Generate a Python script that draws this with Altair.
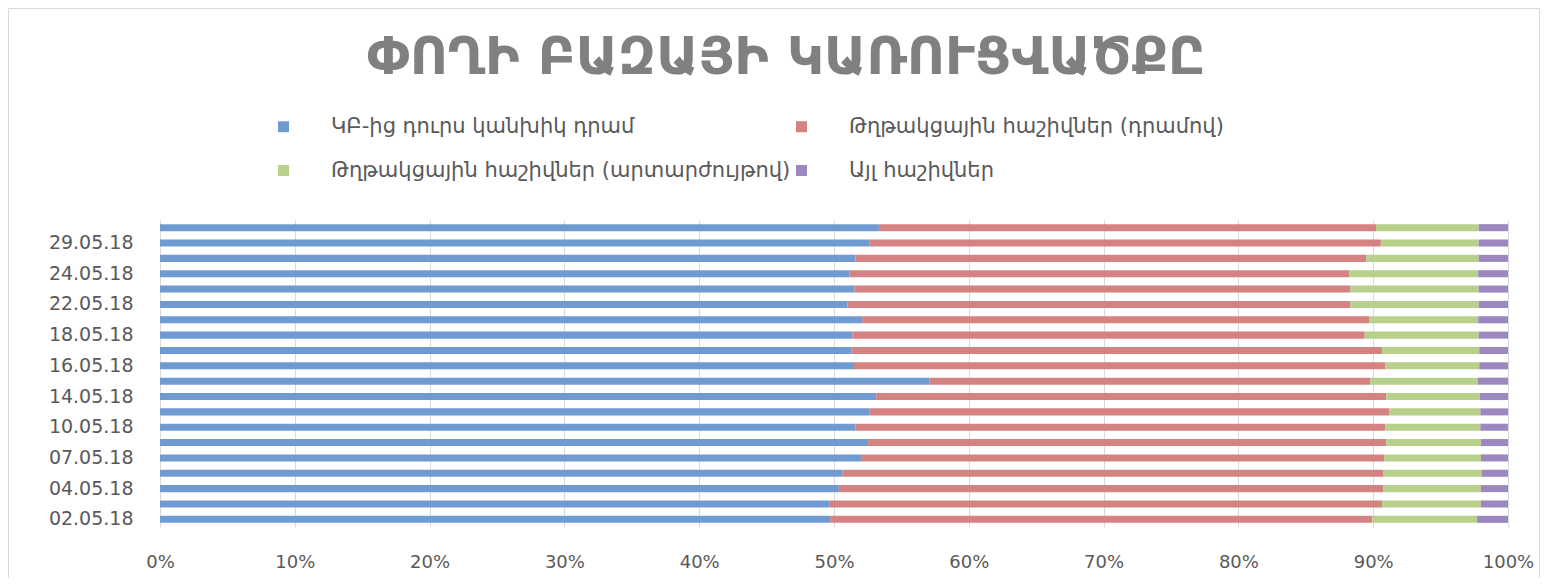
import altair as alt
import pandas as pd

dates = ["02.05.18", "03.05.18", "04.05.18", "05.05.18", "07.05.18", "08.05.18",
         "10.05.18", "11.05.18", "14.05.18", "15.05.18", "16.05.18", "17.05.18",
         "18.05.18", "21.05.18", "22.05.18", "23.05.18", "24.05.18", "25.05.18",
         "29.05.18", "30.05.18"]
shown_dates = ["02.05.18", "04.05.18", "07.05.18", "10.05.18", "14.05.18",
               "16.05.18", "18.05.18", "22.05.18", "24.05.18", "29.05.18"]

series = ["ԿԲ-ից դուրս կանխիկ դրամ", "Թղթակցային հաշիվներ (դրամով)",
          "Թղթակցային հաշիվներ (արտարժույթով)", "Այլ հաշիվներ"]
colors = ["#709ad2", "#d58382", "#b7d08a", "#9d87bf"]

cash = [49.72, 49.68, 50.36, 50.64, 52.00, 52.53, 51.60, 52.61, 53.13, 57.10,
        51.48, 51.28, 51.36, 52.09, 51.00, 51.52, 51.16, 51.60, 52.65, 53.33]
corr_amd = [40.21, 40.97, 40.37, 40.13, 38.81, 38.44, 39.29, 38.60, 37.84, 32.67,
            39.41, 39.37, 38.01, 37.60, 37.32, 36.80, 37.08, 37.89, 37.92, 36.88]
corr_fx = [7.78, 7.34, 7.26, 7.26, 7.18, 7.02, 7.06, 6.74, 6.94, 7.98,
           6.98, 7.22, 8.46, 8.10, 9.51, 9.51, 9.55, 8.34, 7.26, 7.62]
other = [2.29, 2.01, 2.01, 1.97, 2.01, 2.01, 2.05, 2.05, 2.09, 2.25,
         2.13, 2.13, 2.17, 2.21, 2.17, 2.17, 2.21, 2.17, 2.17, 2.17]

title = "ՓՈՂԻ ԲԱԶԱՅԻ ԿԱՌՈՒՑՎԱԾՔԸ"

rows = []
for vals, name, k in zip([cash, corr_amd, corr_fx, other], series, range(4)):
    for d, v in zip(dates, vals):
        rows.append({"date": d, "series": name, "value": v, "k": k})
df = pd.DataFrame(rows)

# legend fills column by column: order the domain so rows read as in the original
legend_order = [series[0], series[2], series[1], series[3]]
legend_colors = [colors[0], colors[2], colors[1], colors[3]]

FONT = "DejaVu Sans"
GRAY = "#595959"

bars = alt.Chart(df).mark_bar().encode(
    y=alt.Y("date:N", sort=list(reversed(dates)), title=None,
            scale=alt.Scale(paddingInner=0.54, paddingOuter=0.27),
            axis=alt.Axis(values=shown_dates, ticks=False, domain=False, grid=False,
                          labelFont=FONT, labelFontSize=19, labelColor=GRAY,
                          labelPadding=27)),
    x=alt.X("value:Q", stack="normalize", title=None,
            scale=alt.Scale(domain=[0, 1], nice=False),
            axis=alt.Axis(format=".0%", values=[i / 10 for i in range(11)],
                          ticks=False, tickSize=0, domain=False, grid=True,
                          gridColor="#d9d9d9", gridWidth=1, labelFlush=False,
                          labelFont=FONT, labelFontSize=18, labelColor=GRAY,
                          labelPadding=26)),
    color=alt.Color("series:N", sort=legend_order,
                    scale=alt.Scale(domain=legend_order, range=legend_colors),
                    legend=alt.Legend(title=None, orient="none", legendX=113, legendY=-104,
                                      columns=2, columnPadding=-4, rowPadding=22,
                                      symbolType="square", symbolSize=121,
                                      symbolStrokeWidth=0, symbolOpacity=1,
                                      labelOffset=37, labelLimit=600,
                                      labelFont=FONT, labelFontSize=21, labelColor=GRAY)),
    order=alt.Order("k:Q"),
)

frame_df = pd.DataFrame({"f": [0]})
frame = alt.Chart(frame_df).mark_rect(fill=None, stroke="#d9d9d9", strokeWidth=1).encode(
    x=alt.value(-151.5), x2=alt.value(1379.5), y=alt.value(-211.5), y2=alt.value(400)
)

chart = alt.layer(frame, bars).properties(
    width=1348, height=307,
    autosize=alt.AutoSizeParams(type="none"),
    padding={"left": 152, "top": 212, "right": 32, "bottom": 51},
    title=alt.TitleParams(title, font=FONT, fontSize=52, fontWeight="bold",
                          color="#808080", anchor="middle", frame="group",
                          dx=-48, offset=-118, baseline="alphabetic"),
).configure_view(stroke=None)

chart.save("out.html", embed_options={"renderer": "svg", "actions": False})
